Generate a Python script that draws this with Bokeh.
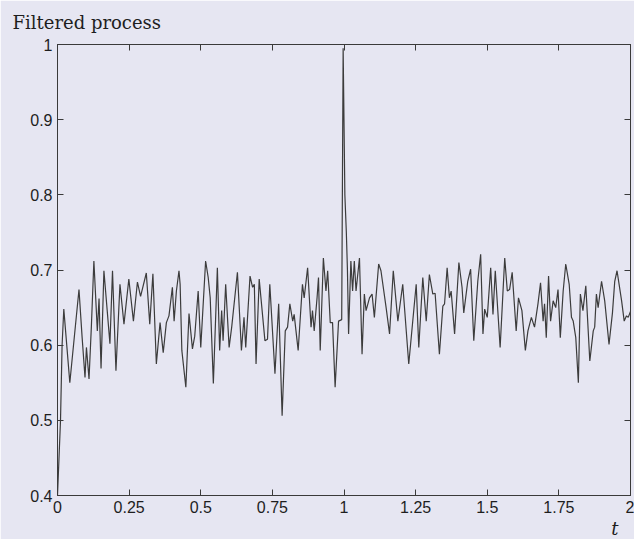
from bokeh.plotting import figure
from bokeh.models import LinearAxis, FixedTicker, Title, Range1d
from bokeh.embed import file_html
from bokeh.resources import INLINE

t = [0.0, 0.0105, 0.016, 0.022, 0.043, 0.075, 0.086, 0.096, 0.101, 0.110, 0.118, 0.127,
     0.139, 0.145, 0.152, 0.162, 0.183, 0.192, 0.204, 0.218, 0.232, 0.249, 0.265, 0.279,
     0.290, 0.310, 0.322, 0.333, 0.345, 0.358, 0.369, 0.380, 0.389, 0.401, 0.407, 0.415,
     0.424, 0.428, 0.434, 0.448, 0.459, 0.471, 0.479, 0.491, 0.500, 0.517, 0.526, 0.533,
     0.544, 0.558, 0.566, 0.573, 0.578, 0.587, 0.599, 0.608, 0.628, 0.642, 0.651, 0.657,
     0.672, 0.681, 0.687, 0.693, 0.704, 0.724, 0.733, 0.741, 0.759, 0.772, 0.784, 0.795,
     0.803, 0.811, 0.821, 0.826, 0.840, 0.855, 0.861, 0.873, 0.885, 0.890, 0.896, 0.906,
     0.911, 0.917, 0.928, 0.937, 0.943, 0.952, 0.960, 0.969, 0.981, 0.992, 0.997, 1.003,
     1.008, 1.012, 1.016, 1.024, 1.030, 1.036, 1.042, 1.054, 1.063, 1.071, 1.077, 1.089,
     1.098, 1.106, 1.121, 1.129, 1.147, 1.159, 1.172, 1.188, 1.205, 1.226, 1.252, 1.261,
     1.275, 1.287, 1.298, 1.310, 1.318, 1.333, 1.345, 1.351, 1.360, 1.368, 1.374, 1.386,
     1.401, 1.412, 1.418, 1.432, 1.442, 1.453, 1.467, 1.477, 1.485, 1.491, 1.500, 1.512,
     1.520, 1.528, 1.545, 1.561, 1.570, 1.578, 1.587, 1.601, 1.609, 1.621, 1.633, 1.642,
     1.654, 1.665, 1.677, 1.686, 1.695, 1.700, 1.706, 1.714, 1.721, 1.730, 1.739, 1.747,
     1.755, 1.765, 1.774, 1.786, 1.794, 1.800, 1.809, 1.818, 1.825, 1.834, 1.844, 1.858,
     1.870, 1.875, 1.881, 1.887, 1.899, 1.910, 1.925, 1.937, 1.945, 1.953, 1.969, 1.978,
     1.986, 1.992, 2.000]

y = [0.400, 0.500, 0.600, 0.648, 0.550, 0.674, 0.610, 0.557, 0.597, 0.555, 0.623, 0.712,
     0.619, 0.662, 0.569, 0.699, 0.602, 0.699, 0.566, 0.681, 0.628, 0.688, 0.632, 0.684,
     0.665, 0.696, 0.628, 0.695, 0.575, 0.630, 0.590, 0.630, 0.639, 0.677, 0.632, 0.672,
     0.699, 0.681, 0.593, 0.544, 0.642, 0.595, 0.612, 0.672, 0.597, 0.712, 0.690, 0.663,
     0.549, 0.703, 0.593, 0.646, 0.606, 0.681, 0.597, 0.624, 0.697, 0.593, 0.637, 0.597,
     0.692, 0.677, 0.681, 0.575, 0.688, 0.606, 0.608, 0.681, 0.562, 0.655, 0.506, 0.619,
     0.624, 0.655, 0.632, 0.641, 0.593, 0.681, 0.663, 0.703, 0.624, 0.646, 0.619, 0.663,
     0.690, 0.593, 0.716, 0.672, 0.699, 0.630, 0.630, 0.544, 0.632, 0.634, 0.995, 0.800,
     0.752, 0.700, 0.615, 0.712, 0.672, 0.712, 0.672, 0.716, 0.588, 0.668, 0.646, 0.663,
     0.668, 0.637, 0.708, 0.699, 0.650, 0.615, 0.699, 0.632, 0.681, 0.575, 0.681, 0.597,
     0.690, 0.632, 0.694, 0.668, 0.669, 0.588, 0.652, 0.655, 0.703, 0.663, 0.672, 0.615,
     0.710, 0.677, 0.643, 0.685, 0.701, 0.606, 0.685, 0.721, 0.615, 0.648, 0.637, 0.703,
     0.641, 0.699, 0.597, 0.716, 0.672, 0.674, 0.697, 0.619, 0.663, 0.646, 0.593, 0.619,
     0.637, 0.624, 0.655, 0.683, 0.632, 0.655, 0.610, 0.692, 0.632, 0.659, 0.650, 0.674,
     0.610, 0.672, 0.708, 0.681, 0.637, 0.632, 0.610, 0.550, 0.668, 0.646, 0.679, 0.579,
     0.619, 0.624, 0.668, 0.650, 0.685, 0.659, 0.601, 0.643, 0.685, 0.699, 0.659, 0.632,
     0.639, 0.637, 0.645]

x_ticks = [0, 0.25, 0.5, 0.75, 1, 1.25, 1.5, 1.75, 2]
x_tick_labels = ["0", "0.25", "0.5", "0.75", "1", "1.25", "1.5", "1.75", "2"]
y_ticks = [0.4, 0.5, 0.6, 0.7, 0.8, 0.9, 1.0]
y_tick_labels = ["0.4", "0.5", "0.6", "0.7", "0.8", "0.9", "1"]

BG = "#e6e6f2"
AX = "#3a3a3a"

p = figure(width=634, height=539, output_backend="svg", toolbar_location=None,
           x_range=Range1d(0, 2), y_range=Range1d(0.4, 1.0),
           min_border_left=57, min_border_right=4, min_border_top=44, min_border_bottom=44,
           background_fill_color=BG, border_fill_color=BG)
p.grid.visible = False
p.outline_line_color = AX
p.outline_line_width = 1

p.line(t, y, line_color="#3c3c3c", line_width=1.2)

def style(ax, ticks, labels, show):
    ax.ticker = FixedTicker(ticks=ticks)
    ax.major_label_overrides = {float(k): l for k, l in zip(ticks, labels)}
    ax.major_tick_in = 6
    ax.major_tick_out = 0
    ax.minor_tick_line_color = None
    ax.axis_line_color = AX
    ax.major_tick_line_color = AX
    if show:
        ax.major_label_text_font = "Liberation Sans"
        ax.major_label_text_font_size = "16px"
        ax.major_label_text_color = "#1e1e1e"
        ax.major_label_standoff = 5
    else:
        ax.major_label_text_font_size = "0px"
        ax.major_label_text_color = None
        ax.major_label_standoff = 0

style(p.xaxis[0], x_ticks, x_tick_labels, True)
style(p.yaxis[0], y_ticks, y_tick_labels, True)
ra = LinearAxis()
style(ra, y_ticks, y_tick_labels, False)
p.add_layout(ra, "right")
ta = LinearAxis()
style(ta, x_ticks, x_tick_labels, False)
p.add_layout(ta, "above")

title = Title(text="Filtered process", align="left", offset=-45, standoff=20,
              vertical_align="top",
              text_font="DejaVu Serif", text_font_size="18px", text_color="#1e1e1e",
              text_font_style="normal")
p.add_layout(title, "above")
tl = Title(text="t", align="right", offset=12, standoff=0,
           text_font="DejaVu Serif", text_font_style="italic", text_font_size="18px",
           text_color="#1e1e1e")
p.add_layout(tl, "below")

open("out.html", "w").write(file_html(p, INLINE))
